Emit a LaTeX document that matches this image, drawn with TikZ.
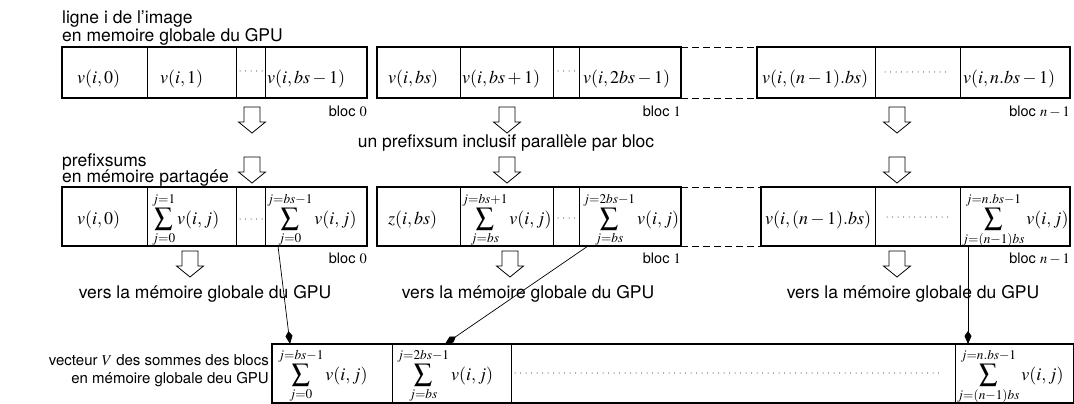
\documentclass[tikz,border=0pt]{standalone}
\usepackage{mathptmx}
\usepackage[no-math]{fontspec}
\setmainfont{TeX Gyre Heros}
\usetikzlibrary{arrows.meta}
\newcommand\mycell[5]{\node[cellbox, minimum width={#3-#2}, minimum height={#5-#4}] (#1) at ({(#2+#3)/2},{(#4+#5)/2}) {};}
\newcommand\mydots[3]{\draw[dotsline] (#1,#3) -- (#2,#3);}
\begin{document}
\begin{tikzpicture}[x=1pt,y=-1pt,
  cellbox/.style={draw, rectangle, inner sep=0pt, outer sep=0pt, line width=0.6pt},
  blockline/.style={line width=1.2pt},
  dashline/.style={line width=0.8pt, dash pattern=on 7pt off 4pt},
  dotsline/.style={line width=1pt, dash pattern=on 0pt off 5.5pt, line cap=round},
  mtxt/.style={anchor=base west, inner sep=0pt, font=\fontsize{18}{20}\selectfont},
  lbl/.style={inner sep=0pt, font=\fontsize{17.5}{18}\selectfont},
  bloclbl/.style={anchor=base east, inner sep=0pt, font=\fontsize{14.5}{16}\selectfont},
  veclbl/.style={anchor=base east, inner sep=0pt, font=\fontsize{15}{17}\selectfont},
  conn/.style={line width=0.7pt, -{Kite[length=13pt,width=7pt,inset=5pt]}},
  hollow/.pic={\draw[fill=white, line width=0.8pt] (-8,0) -- (8,0) -- (8,15) -- (13.5,15) -- (0,26) -- (-13.5,15) -- (-8,15) -- cycle;}
]
\useasboundingbox (0,0) rectangle (1074,404);

% ---------- labels ----------
\node[lbl, anchor=base west] (l1) at (62,24) {ligne i de l'image};
\node[lbl, anchor=base west] (l2) at (62,42) {en memoire globale du GPU};
\node[lbl, anchor=base west] (l3) at (62,166) {prefixsums};
\node[lbl, anchor=base west] (l4) at (62,182) {en mémoire partagée};
\node[lbl, anchor=base] (l5) at (506,147) {un prefixsum inclusif parallèle par bloc};
\node[lbl, anchor=base] (v0) at (205,298) {vers la mémoire globale du GPU};
\node[lbl, anchor=base] (v1) at (528,298) {vers la mémoire globale du GPU};
\node[lbl, anchor=base] (v2) at (913,298) {vers la mémoire globale du GPU};
\node[veclbl] (l6) at (269,365) {vecteur $V$ des sommes des blocs};
\node[veclbl] (l7) at (269,383) {en mémoire globale deu GPU};

% ---------- row 1 ----------
\mycell{c00}{62}{147}{47}{98}
\mycell{c01}{147}{236}{47}{98}
\mycell{c02}{236}{265}{47}{98}
\mycell{c03}{265}{367}{47}{98}
\mycell{c10}{377}{460}{47}{98}
\mycell{c11}{460}{553}{47}{98}
\mycell{c12}{553}{579}{47}{98}
\mycell{c13}{579}{681}{47}{98}
\mycell{c20}{757}{875}{47}{98}
\mycell{c21}{875}{960}{47}{98}
\mycell{c22}{960}{1070}{47}{98}
\draw[blockline] (c00.north west) rectangle (c03.south east);
\draw[blockline] (c10.north west) rectangle (c13.south east);
\draw[blockline] (c20.north west) rectangle (c22.south east);
\draw[dashline] (c13.north east) -- (c20.north west);
\draw[dashline] (c13.south east) -- (c20.south west);

\node[mtxt] (tc00) at (77,84) {$v(i,0)$};
\node[mtxt] (tc01) at (160,84) {$v(i,1)$};
\node[mtxt] (tc03) at (267,84) {$v(i,bs-1)$};
\node[mtxt] (tc10) at (388,84) {$v(i,bs)$};
\node[mtxt] (tc11) at (462,84) {$v(i,bs+1)$};
\node[mtxt] (tc13) at (583,84) {$v(i,2bs-1)$};
\node[mtxt] (tc20) at (762,84) {$v(i,(n-1).bs)$};
\node[mtxt] (tc22) at (963,84) {$v(i,n.bs-1)$};
\mydots{240}{262}{71}
\mydots{558}{577}{71}
\mydots{885}{948}{72}

\node[bloclbl] (b0) at (367,116) {bloc $0$};
\node[bloclbl] (b1) at (681,116) {bloc $1$};
\node[bloclbl] (b2) at (1070,116) {bloc $n-1$};

% hollow arrows
\pic at (252,107) {hollow};
\pic at (507,107) {hollow};
\pic at (897,107) {hollow};
\pic at (252,157) {hollow};
\pic at (507,157) {hollow};
\pic at (897,157) {hollow};
\pic at (190,251) {hollow};
\pic at (510,251) {hollow};
\pic at (897,251) {hollow};

% ---------- row 2 ----------
\mycell{d00}{62}{147}{187}{246}
\mycell{d01}{147}{236}{187}{246}
\mycell{d02}{236}{265}{187}{246}
\mycell{d03}{265}{367}{187}{246}
\mycell{d10}{377}{460}{187}{246}
\mycell{d11}{460}{553}{187}{246}
\mycell{d12}{553}{579}{187}{246}
\mycell{d13}{579}{681}{187}{246}
\mycell{d20}{761}{875}{187}{246}
\mycell{d21}{875}{960}{187}{246}
\mycell{d22}{960}{1070}{187}{246}
\draw[blockline] (d00.north west) rectangle (d03.south east);
\draw[blockline] (d10.north west) rectangle (d13.south east);
\draw[blockline] (d20.north west) rectangle (d22.south east);
\draw[dashline] (d13.north east) -- (d20.north west);
\draw[dashline] (d13.south east) -- (d20.south west);

\node[mtxt] (td00) at (77,224) {$v(i,0)$};
\node[mtxt] (td01) at (152,224) {$\displaystyle\sum_{j=0}^{j=1} v(i,j)$};
\node[mtxt] (td03) at (267,224) {$\displaystyle\sum_{j=0}^{j=bs-1} v(i,j)$};
\node[mtxt] (td10) at (388,224) {$z(i,bs)$};
\node[mtxt] (td11) at (462,224) {$\displaystyle\sum_{j=bs}^{j=bs+1} v(i,j)$};
\node[mtxt] (td13) at (583,224) {$\displaystyle\sum_{j=bs}^{j=2bs-1} v(i,j)$};
\node[mtxt] (td20) at (765,224) {$v(i,(n-1).bs)$};
\node[mtxt] (td22) at (962,224) {$\displaystyle\sum_{j=(n-1)bs}^{j=n.bs-1} v(i,j)$};
\mydots{240}{262}{219}
\mydots{558}{577}{218}
\mydots{887}{948}{217}

\node[bloclbl] (b3) at (367,263) {bloc $0$};
\node[bloclbl] (b4) at (681,263) {bloc $1$};
\node[bloclbl] (b5) at (1070,263) {bloc $n-1$};

% ---------- bottom vector ----------
\mycell{e0}{272}{392}{344}{403}
\mycell{e1}{392}{511}{344}{403}
\mycell{e2}{511}{955}{344}{403}
\mycell{e3}{955}{1074}{344}{403}
\draw[blockline] (e0.north west) rectangle (e3.south east);
\node[mtxt] (te0) at (278,380) {$\displaystyle\sum_{j=0}^{j=bs-1} v(i,j)$};
\node[mtxt] (te1) at (397,380) {$\displaystyle\sum_{j=bs}^{j=2bs-1} v(i,j)$};
\node[mtxt] (te3) at (957,380) {$\displaystyle\sum_{j=(n-1)bs}^{j=n.bs-1} v(i,j)$};
\mydots{515}{940}{373}

% ---------- connectors ----------
\coordinate (s0) at ([xshift=13pt]d03.south west);
\coordinate (t0) at ([xshift=18pt]e0.north west);
\coordinate (s1) at ([xshift=9pt]d13.south west);
\coordinate (t1) at ([xshift=53pt]e1.north west);
\coordinate (s2) at ([xshift=8pt]d22.south west);
\coordinate (t2) at (s2 |- e3.north);
\draw[conn] (s0) -- (t0);
\draw[conn] (s1) -- (t1);
\draw[conn] (s2) -- (t2);
\end{tikzpicture}
\end{document}
